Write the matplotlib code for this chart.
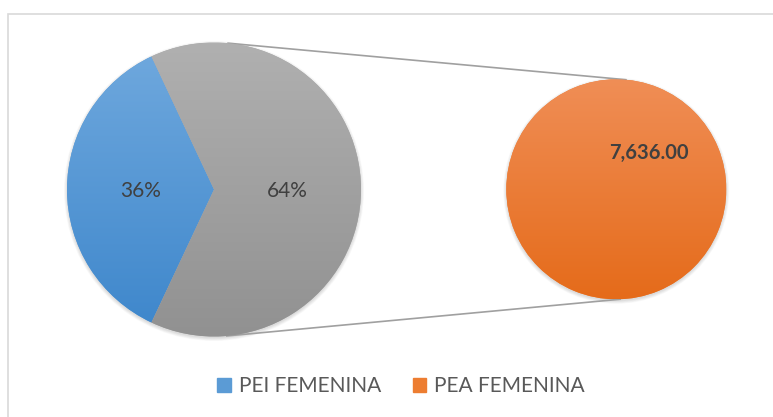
import numpy as np
import matplotlib
matplotlib.use("Agg")
import matplotlib.pyplot as plt
from matplotlib.patches import Patch, Rectangle, Circle
from matplotlib.colors import LinearSegmentedColormap

# data
categories = ["PEI FEMENINA", "PEA FEMENINA"]
main_share = [36, 64]          # percent of the main pie
secondary_values = [7636.00]   # the split-out PEA FEMENINA part

W, H = 773, 417
plt.rcParams['font.family'] = ['Lato', 'DejaVu Sans']
text_col = "#595959"

fig = plt.figure(figsize=(W / 100, H / 100), dpi=100)
ax = fig.add_axes([0, 0, 1, 1])
ax.set_xlim(0, W)
ax.set_ylim(0, H)
ax.set_aspect("equal")
ax.axis("off")

# chart frame
ax.add_patch(Rectangle((8, -10), W + 20, H - 14 + 10, fill=False,
                       ec="#d9d9d9", lw=1.2))

main_c, main_r = (214, H - 189.5), 147
sec_c, sec_r = (616.3, H - 189.3), 110


def soft_shadow(center, r):
    for k in range(6):
        ax.add_patch(Circle((center[0], center[1] - 1.5), r + 0.6 * k,
                            color="black", alpha=0.025, lw=0, zorder=1))


def gradient_fill(wedge, top, bottom, center, r):
    cmap = LinearSegmentedColormap.from_list("g", [bottom, top])
    grad = np.linspace(0, 1, 256).reshape(-1, 1)
    im = ax.imshow(grad, cmap=cmap, origin="lower", aspect="auto",
                   extent=(center[0] - r, center[0] + r, center[1] - r, center[1] + r),
                   zorder=3)
    im.set_clip_path(wedge)


soft_shadow(main_c, main_r)
soft_shadow(sec_c, sec_r)

wedges, _ = ax.pie(main_share, center=main_c, radius=main_r, startangle=115.2,
                   counterclock=True, colors=["#5b9bd5", "#a5a5a5"],
                   wedgeprops=dict(lw=0), frame=True)
sec_wedges, _ = ax.pie(secondary_values, center=sec_c, radius=sec_r,
                       startangle=90, colors=["#ed7d31"],
                       wedgeprops=dict(lw=0), frame=True)
ax.set_xlim(0, W)
ax.set_ylim(0, H)
ax.axis("off")

gradient_fill(wedges[0], "#70a9de", "#3d86cb", main_c, main_r)
gradient_fill(wedges[1], "#b0b0b0", "#919191", main_c, main_r)
gradient_fill(sec_wedges[0], "#f08e56", "#e56b1a", sec_c, sec_r)

# connector lines
def on_circle(center, r, ang):
    a = np.deg2rad(ang)
    return center[0] + r * np.cos(a), center[1] + r * np.sin(a)

for a1, a2 in [(84.5, 85), (-85, -88)]:
    p1 = on_circle(main_c, main_r, a1)
    p2 = on_circle(sec_c, sec_r, a2)
    ax.plot([p1[0], p2[0]], [p1[1], p2[1]], color="#a0a0a0", lw=1.2, zorder=2)

# data labels
ax.text(141, H - 191, f"{main_share[0]}%", ha="center", va="center",
        fontsize=15, color="#404040", zorder=5)
ax.text(287, H - 191, f"{main_share[1]}%", ha="center", va="center",
        fontsize=15, color="#404040", zorder=5)
ax.text(649, H - 153, f"{secondary_values[0]:,.2f}", ha="center", va="center",
        fontsize=14.5, fontweight="bold", color="#404040", zorder=5)

handles = [Patch(color="#5b9bd5"), Patch(color="#ed7d31")]
fig.legend(handles, categories, loc="center", bbox_to_anchor=(0.519, 1 - 386 / H),
           ncol=2, frameon=False, fontsize=15, labelcolor=text_col,
           handlelength=0.65, handleheight=0.65, handletextpad=0.4,
           columnspacing=1.5)

fig.savefig("out.png", dpi=100)
